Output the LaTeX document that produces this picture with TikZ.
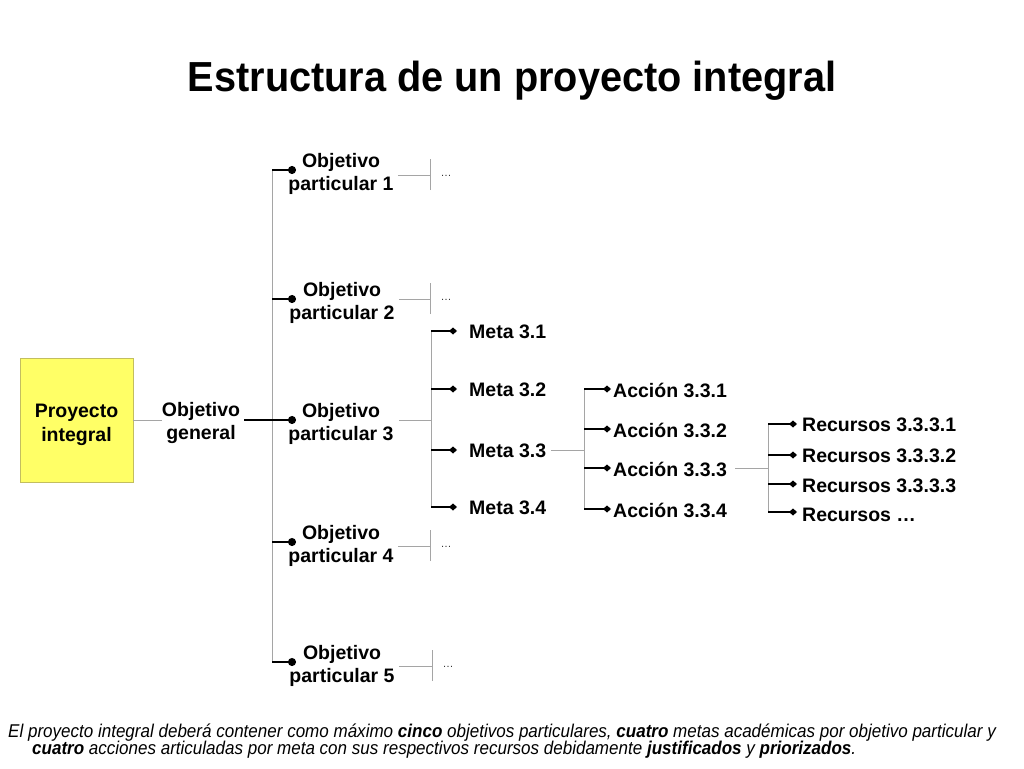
\documentclass[tikz,border=0pt]{standalone}
\usepackage{fontspec}
\setmainfont{Liberation Sans}
\newfontfamily\narrowfont[FakeStretch=0.92]{Liberation Sans}
\usetikzlibrary{arrows.meta}
\definecolor{glc}{RGB}{165,165,165}
\definecolor{boxfill}{RGB}{255,255,102}
\definecolor{boxdraw}{RGB}{195,190,95}
\tikzset{
  lbl/.style={font=\fontsize{19.5}{23.5}\selectfont\bfseries, inner sep=0pt, align=center},
  lblw/.style={font=\fontsize{19.5}{23.5}\selectfont\bfseries, inner sep=0pt, anchor=base west},
  grayline/.style={draw=glc, line width=0.9pt},
  dotline/.style={draw=black, line width=1.6pt, -{Circle[length=8pt,width=8pt]}},
  diamline/.style={draw=black, line width=1.5pt, -{Diamond[length=8pt,width=7pt]}},
  ell/.style={font=\fontsize{11}{12}\selectfont, inner sep=0pt, text=black!80},
  pibox/.style={draw=boxdraw, fill=boxfill, line width=0.8pt, minimum width=113pt, minimum height=124pt, inner sep=0pt},
  foot/.style={font=\narrowfont\itshape\fontsize{18.5}{20}\selectfont, inner sep=0pt, anchor=base west},
}
\begin{document}
\begin{tikzpicture}[x=1pt,y=-1pt]
\useasboundingbox (0,0) rectangle (1024,768);
% title
\node[inner sep=0pt, anchor=base] (title) at (512,91.5) {\scalebox{0.945}[1]{\fontsize{42}{48}\selectfont\bfseries Estructura de un proyecto integral}};
% proyecto box
\node[pibox] (pi) at (76.5,420) {};
\node[lbl] (pitxt) at (76.5,425) {Proyecto\\integral};
% objetivo general
\node[lbl] (og) at (201,423) {Objetivo\\general};
\coordinate (ogend) at (296,420);
\draw[grayline] (pi.east) -- (og.west |- pi.east);
% main bracket
\coordinate (b1) at (272,170);
\coordinate (b2) at (272,299);
\coordinate (b3) at (272,420);
\coordinate (b4) at (272,542);
\coordinate (b5) at (272,662);
\draw[grayline] (b1) -- (b5);
\draw[dotline] ([xshift=4pt]og.east |- ogend) -- (ogend);
% objetivos particulares
\foreach \i/\y in {1/170,2/299,4/542,5/662}{
  \coordinate (d\i) at (296,\y);
  \draw[dotline] (b\i) -- (d\i);
}
\node[lbl] (o1) at (341,174) {Objetivo\\particular 1};
\node[lbl] (o2) at (342,303) {Objetivo\\particular 2};
\node[lbl] (o3) at (341,424) {Objetivo\\particular 3};
\node[lbl] (o4) at (341,546) {Objetivo\\particular 4};
\node[lbl] (o5) at (342,666) {Objetivo\\particular 5};
% continuation stubs
\coordinate (e1) at (430,175);
\coordinate (e2) at (430,299);
\coordinate (e4) at (430,546);
\coordinate (e5) at (432,666);
\foreach \i in {1,2,4,5}{
  \draw[grayline] ([xshift=4pt]o\i.east |- e\i) -- (e\i);
  \draw[grayline] ([yshift=-15pt]e\i) -- ([yshift=16pt]e\i);
  \node[ell] (el\i) at ([xshift=16pt,yshift=-1pt]e\i) {\dots};
}
% metas
\coordinate (mj) at (431,420);
\draw[grayline] ([xshift=5pt]o3.east |- mj) -- (mj);
\coordinate (mt) at (431,331);
\coordinate (mb) at (431,507);
\draw[grayline] (mt) -- (mb);
\foreach \j/\y in {1/331,2/389,3/450,4/507}{
  \coordinate (ms\j) at (431,\y);
  \coordinate (md\j) at (457,\y);
  \draw[diamline] (ms\j) -- (md\j);
  \node[lblw] (m\j) at (469,\y+7) {Meta 3.\j};
}
% acciones
\coordinate (aj) at (584,450);
\draw[grayline] ([xshift=5pt]m3.east |- aj) -- (aj);
\coordinate (at) at (584,389);
\coordinate (ab) at (584,509);
\draw[grayline] (at) -- (ab);
\foreach \j/\y in {1/389,2/429,3/468,4/509}{
  \coordinate (as\j) at (584,\y);
  \coordinate (ad\j) at (611,\y);
  \draw[diamline] (as\j) -- (ad\j);
  \node[lblw] (a\j) at (613,\y+8) {Acción 3.3.\j};
}
% recursos
\coordinate (rj) at (768,468);
\draw[grayline] ([xshift=8pt]a3.east |- rj) -- (rj);
\coordinate (rt) at (768,424);
\coordinate (rb) at (768,512);
\draw[grayline] (rt) -- (rb);
\foreach \j/\y in {1/424,2/455,3/484,4/512}{
  \coordinate (rs\j) at (768,\y);
  \coordinate (rd\j) at (797,\y);
  \draw[diamline] (rs\j) -- (rd\j);
}
\node[lblw] (r1) at (802,431) {Recursos 3.3.3.1};
\node[lblw] (r2) at (802,462) {Recursos 3.3.3.2};
\node[lblw] (r3) at (802,492) {Recursos 3.3.3.3};
\node[lblw] (r4) at (802,521) {Recursos …};
% footnote
\node[foot] (fn1) at (8,737) {El proyecto integral deberá contener como máximo \textbf{cinco} objetivos particulares, \textbf{cuatro} metas académicas por objetivo particular y};
\node[foot] (fn2) at (32,754) {\textbf{cuatro} acciones articuladas por meta con sus respectivos recursos debidamente \textbf{justificados} y \textbf{priorizados}.};
\end{tikzpicture}
\end{document}
